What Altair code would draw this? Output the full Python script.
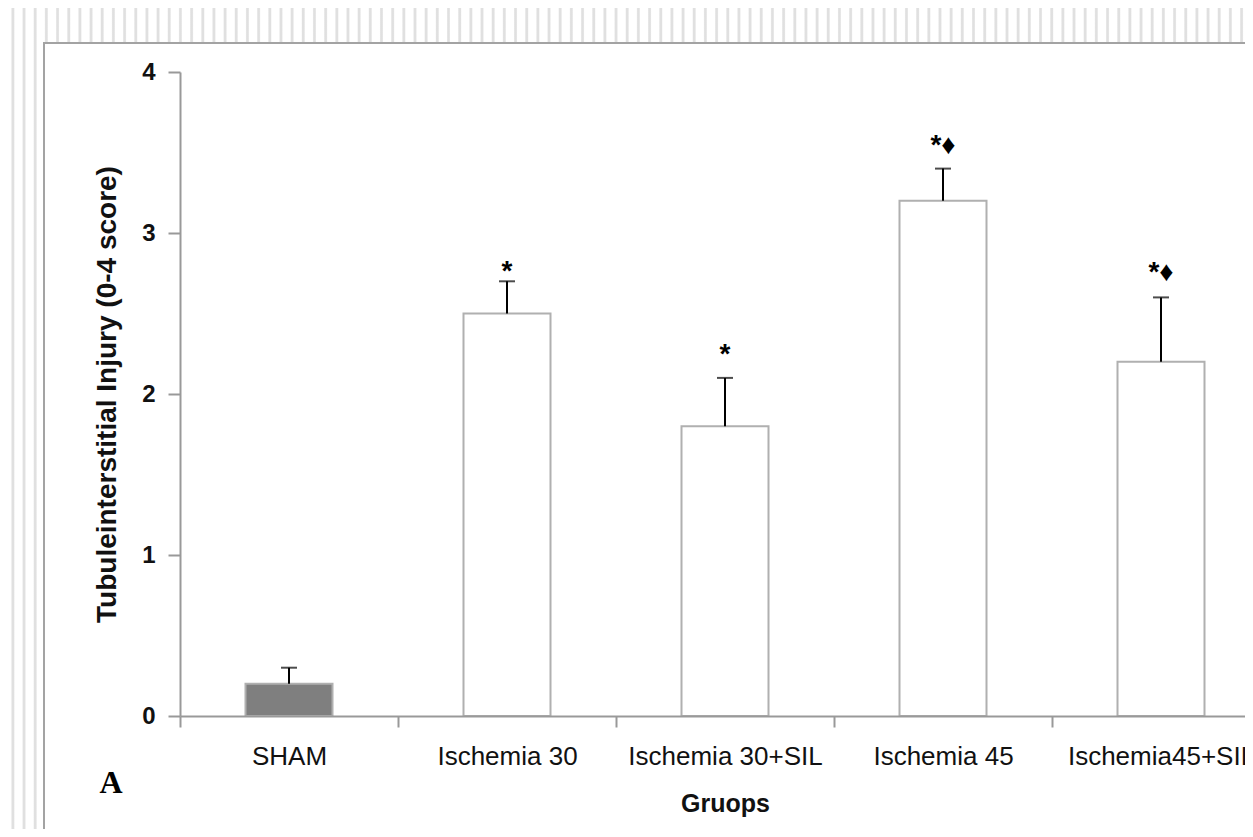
import altair as alt
import pandas as pd

# ---- data ----
groups = ["SHAM", "Ischemia 30", "Ischemia 30+SIL", "Ischemia 45", "Ischemia45+SIL"]
means = [0.2, 2.5, 1.8, 3.2, 2.2]
err_top = [0.3, 2.7, 2.1, 3.4, 2.6]
sig_marks = ["", "*", "*", "*\u2666", "*\u2666"]
sig_y = [0.0, 2.81, 2.29, 3.59, 2.80]
bar_fill = ["#7f7f7f", "#ffffff", "#ffffff", "#ffffff", "#ffffff"]
y_ticks = [0, 1, 2, 3, 4]

y_title = "Tubuleinterstitial Injury (0-4 score)"
x_title = "Gruops"
panel_letter = "A"

df = pd.DataFrame({"group": groups, "mean": means, "err": err_top, "fill": bar_fill})
ann = pd.DataFrame({"group": groups, "txt": sig_marks, "ty": sig_y})
ann = ann[ann["txt"] != ""]

# ---- layout (view = white frame) ----
W, H = 1202, 787
X_RANGE = [137, 1227]
Y_RANGE = [674, 30]
FONT = "Liberation Sans"

# striped page background (decoration)
svg_w = W + 35
period, start = 11.17, 1.7 - 8
stops = [alt.GradientStop(offset=0, color="#ffffff")]
k = 0
while True:
    c = start + period * k
    k += 1
    if c + 2 < 0:
        continue
    if c - 2 > svg_w:
        break
    for pos, col in [(c - 2, "#ffffff"), (c - 0.8, "#e0e0e0"), (c + 0.8, "#e0e0e0"), (c + 2, "#ffffff")]:
        off = min(max(pos / svg_w, 0), 1)
        if off >= stops[-1].offset:
            stops.append(alt.GradientStop(offset=off, color=col))
stripes_grad = alt.LinearGradient(gradient="linear", stops=stops, x1=0, x2=1, y1=0, y2=0)

one = pd.DataFrame({"k": [0]})
stripes = alt.Chart(one).mark_rect(fill=stripes_grad, clip=False).encode(
    x=alt.value(-35), x2=alt.value(W), y=alt.value(-34), y2=alt.value(H)
)
frame = alt.Chart(one).mark_rect(fill="#ffffff", stroke="#a3a3a3", strokeWidth=2, clip=False).encode(
    x=alt.value(1), x2=alt.value(W + 20), y=alt.value(1), y2=alt.value(H + 20)
)

xs = alt.Scale(domain=groups, range=X_RANGE, paddingInner=0, paddingOuter=0)
ys = alt.Scale(domain=[0, 4], range=Y_RANGE, nice=False)

x_axis = alt.Axis(
    orient="bottom", offset=-(H - Y_RANGE[0]), tickBand="extent", tickSize=11, tickWidth=2,
    tickColor="#999999", domainColor="#999999", domainWidth=2, labelAngle=0,
    labelFont=FONT, labelFontSize=26, labelColor="#111111", labelPadding=16, labelLimit=500,
    labelOverlap=False, title=x_title, titleFont=FONT, titleFontSize=25, titleFontWeight="bold",
    titleColor="#111111", titlePadding=22, zindex=1,
)
y_axis = alt.Axis(
    orient="left", offset=-X_RANGE[0], values=y_ticks, format="d", tickSize=12, tickWidth=2,
    tickColor="#999999", domainColor="#999999", domainWidth=2, grid=False,
    labelFont=FONT, labelFontSize=24, labelFontWeight="bold", labelColor="#111111", labelPadding=13,
    title=y_title, titleFont=FONT, titleFontSize=28, titleFontWeight="bold", titleColor="#111111",
    titlePadding=20, zindex=1,
)

X = alt.X("group:N", scale=xs, axis=x_axis, sort=groups, title=x_title)

bars = alt.Chart(df).mark_bar(size=87, stroke="#b0b0b0", strokeWidth=2).encode(
    x=X,
    y=alt.Y("mean:Q", scale=ys, axis=y_axis, title=y_title),
    fill=alt.Fill("fill:N", scale=None),
)
stems = alt.Chart(df).mark_rule(color="#000000", strokeWidth=2).encode(
    x=X, y=alt.Y("mean:Q", scale=ys, title=y_title), y2="err:Q"
)
caps = alt.Chart(df).mark_tick(color="#000000", size=16, thickness=2).encode(
    x=X, y=alt.Y("err:Q", scale=ys, title=y_title)
)
stars = alt.Chart(ann).mark_text(font=FONT, fontSize=28, fontWeight="bold", color="#000000",
                                 baseline="middle", dy=8).encode(
    x=X, y=alt.Y("ty:Q", scale=ys, title=y_title), text="txt:N"
)
letter = alt.Chart(pd.DataFrame({"t": [panel_letter]})).mark_text(
    font="Liberation Serif", fontSize=32, fontWeight="bold", color="#000000",
    baseline="alphabetic", align="center", clip=False
).encode(x=alt.value(68), y=alt.value(751), text="t:N")

chart = alt.layer(stripes, frame, bars, stems, caps, stars, letter).properties(
    width=W, height=H, autosize=alt.AutoSizeParams(type="none"),
    padding={"left": 35, "top": 34, "right": 0, "bottom": 0},
).configure_view(strokeWidth=0).configure(background="#ffffff")

chart.save("out.html", embed_options={"renderer": "svg", "actions": False})
